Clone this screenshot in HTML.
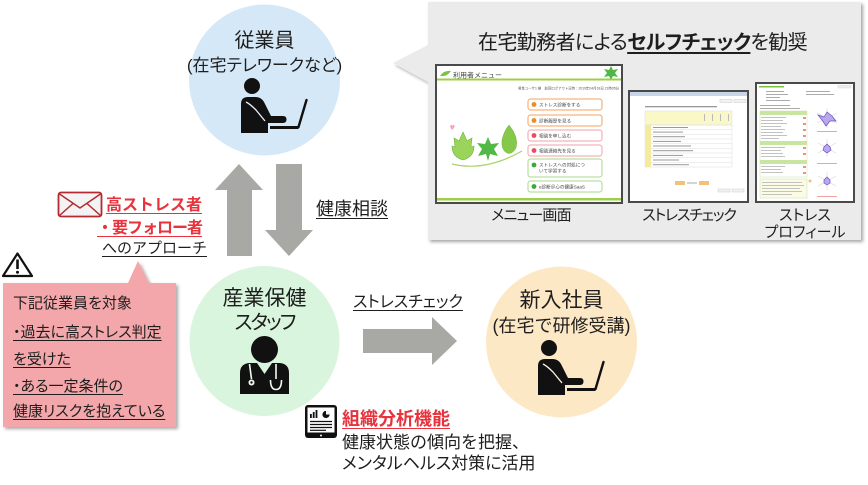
<!DOCTYPE html>
<html><head><meta charset="utf-8">
<style>
html,body{margin:0;padding:0;background:#fff;}
#c{position:relative;width:868px;height:485px;overflow:hidden;font-family:"Liberation Sans","Noto Sans CJK JP",sans-serif;color:#1e1e1e;background:#fff;}
.t{position:absolute;white-space:nowrap;line-height:1;}
.p{font-feature-settings:"palt";}
.u{text-decoration:underline;text-underline-offset:3px;text-decoration-thickness:1px;}
.r{color:#e8323c;font-weight:bold;}
.ctr{text-align:center;}
svg{position:absolute;left:0;top:0;}
</style></head><body><div id="c">
<svg width="868" height="485" viewBox="0 0 868 485" style="font-family:'Liberation Sans','Noto Sans CJK JP',sans-serif;">
<defs>
<filter id="sh" x="-5%" y="-5%" width="115%" height="115%">
<feDropShadow dx="2" dy="2" stdDeviation="1.5" flood-color="#000" flood-opacity="0.35"/>
</filter>
</defs>

<!-- gray panel -->
<path d="M428,2 H861 V240 H428 V82 L393,63 L428,45 Z" fill="#ebebeb" filter="url(#sh)"/>

<!-- pink callout -->
<path d="M3,283 H128 L138,261 L149,283 H176 V427 H3 Z" fill="#f4a7ab" filter="url(#sh)"/>

<!-- circles -->
<circle cx="264.5" cy="80" r="75.5" fill="#d5e8f7"/>
<circle cx="264.5" cy="341" r="75" fill="#daf5de"/>
<circle cx="561.5" cy="342" r="75.5" fill="#fde8c6"/>

<!-- arrows -->
<polygon points="239,164 263,190 252,190 252,256 227,256 227,190 215,190" fill="#a8a9a4"/>
<polygon points="276,164 302,164 302,230 313,230 289,256 265,230 276,230" fill="#a8a9a4"/>
<polygon points="363,329 432,329 432,317 457,341 432,365 432,353 363,353" fill="#a8a9a4"/>

<!-- person icon top -->
<g fill="#111">
<circle cx="252" cy="86" r="8"/>
<path d="M241,133 L241,104 Q241,97 248,97 L256,97 Q261,97 264,102 L271,116 L283,116 Q286.5,116 286.5,119.5 Q286.5,123 283,123 L268,123 L268,133 Z"/>
<rect x="270" y="126" width="28.5" height="3"/>
</g>
<path d="M246,102 Q250,104 256,110 L265,121" fill="none" stroke="#e8f2fb" stroke-width="1.3"/>
<line x1="298.5" y1="127" x2="306.5" y2="100" stroke="#111" stroke-width="2.4" stroke-linecap="round"/>

<!-- person icon orange -->
<g transform="translate(297,262)">
<g fill="#111">
<circle cx="252" cy="86" r="8"/>
<path d="M241,133 L241,104 Q241,97 248,97 L256,97 Q261,97 264,102 L271,116 L283,116 Q286.5,116 286.5,119.5 Q286.5,123 283,123 L268,123 L268,133 Z"/>
<rect x="270" y="126" width="28.5" height="3"/>
</g>
<path d="M246,102 Q250,104 256,110 L265,121" fill="none" stroke="#fff4e2" stroke-width="1.3"/>
<line x1="298.5" y1="127" x2="306.5" y2="100" stroke="#111" stroke-width="2.4" stroke-linecap="round"/>
</g>

<!-- doctor -->
<g fill="#111">
<circle cx="264.5" cy="349.5" r="13.5"/>
<path d="M240,394 L240,373 Q240,364 249,363 L257,363 L264.5,374 L272,363 L280,363 Q289,364 289,373 L289,394 Z"/>
</g>
<g fill="none" stroke="#f2fbf3" stroke-width="1.6">
<path d="M249.5,364 L251.5,379"/>
<path d="M276,364 L276,379"/>
<path d="M270.5,380 Q270.5,389.5 276,389.5 Q281.5,389.5 281.5,380"/>
</g>
<circle cx="251.5" cy="382.5" r="3" fill="#f2fbf3"/>
<circle cx="251.5" cy="382.5" r="1.2" fill="#111"/>

<!-- email icon -->
<rect x="58.5" y="192.5" width="43" height="24" rx="2.5" fill="#f3f3f3" stroke="#b32a30" stroke-width="1.8"/>
<path d="M59.5,194 L80,208 L100.5,194 M59.5,215.5 L73,203.5 M100.5,215.5 L87,203.5" fill="none" stroke="#b32a30" stroke-width="1.5"/>

<!-- warning icon -->
<path d="M17.5,253.5 L32,276 L3,276 Z" fill="#fff" stroke="#111" stroke-width="2.2" stroke-linejoin="round"/>
<rect x="16.2" y="259.5" width="2.6" height="9.5" fill="#111"/>
<circle cx="17.5" cy="272.2" r="1.5" fill="#111"/>

<!-- tablet icon -->
<rect x="305" y="405" width="32" height="33" rx="3" fill="#111"/>
<rect x="307.5" y="407.5" width="27" height="25" fill="#fff"/>
<circle cx="321" cy="435.5" r="1" fill="#fff"/>
<rect x="310" y="414" width="1.8" height="4" fill="#111"/>
<rect x="312.8" y="412" width="1.8" height="6" fill="#111"/>
<rect x="315.6" y="410" width="1.8" height="8" fill="#111"/>
<circle cx="326" cy="414.5" r="3.6" fill="#111"/>
<path d="M326,414.5 L329.6,414.5 A3.6,3.6 0 0 0 326,410.9 Z" fill="#fff"/>
<g stroke="#111" stroke-width="1.2">
<line x1="310" y1="421.5" x2="332" y2="421.5"/>
<line x1="310" y1="424.5" x2="332" y2="424.5"/>
<line x1="310" y1="427.5" x2="332" y2="427.5"/>
<line x1="310" y1="430.3" x2="326" y2="430.3"/>
</g>

<!-- ===== Menu screenshot ===== -->
<rect x="436" y="65" width="186" height="138" fill="#fff" stroke="#4a4a4a" stroke-width="2"/>
<path d="M440,76 Q444,70 451,71 Q447,77 440,76Z" fill="#7cc242"/>
<text x="453" y="77.5" font-size="7" fill="#444">利用者メニュー</text>
<polygon points="611,66 613,70 618,69 615,73 618,77 613,76 611,80 609,76 604,77 607,73 604,69 609,70" fill="#4fb848"/>
<rect x="437" y="78.5" width="184" height="2" fill="#9dd04a"/>
<text x="619" y="89.5" font-size="3.4" text-anchor="end" fill="#555">男性ユーザ1 様　前回ログアウト日時：2019年04月18日 21時05分</text>
<g stroke-width="1" fill="#fff">
<rect x="528" y="99" width="74" height="11" rx="2.5" stroke="#f5a25d"/>
<rect x="528" y="115" width="74" height="11" rx="2.5" stroke="#f5a25d"/>
<rect x="528" y="130" width="74" height="11" rx="2.5" stroke="#f2a0a8"/>
<rect x="528" y="145" width="74" height="11" rx="2.5" stroke="#f2a0a8"/>
<rect x="528" y="159" width="74" height="18" rx="2.5" stroke="#a8d88a"/>
<rect x="528" y="181" width="74" height="11" rx="2.5" stroke="#a8d88a"/>
</g>
<circle cx="534" cy="104.5" r="2.4" fill="#f08a24"/>
<circle cx="534" cy="120.5" r="2.4" fill="#f08a24"/>
<circle cx="534" cy="135.5" r="2.4" fill="#e84a5f"/>
<circle cx="534" cy="150.5" r="2.4" fill="#e84a5f"/>
<circle cx="534" cy="165" r="2.4" fill="#3aaa35"/>
<circle cx="534" cy="186.5" r="2.4" fill="#3aaa35"/>
<g font-size="4.6" fill="#444">
<text x="539" y="106.3">ストレス診断をする</text>
<text x="539" y="122.3">診断履歴を見る</text>
<text x="539" y="137.3">相談を申し込む</text>
<text x="539" y="152.3">相談連絡先を見る</text>
<text x="539" y="166.5">ストレスへの対処につ</text>
<text x="539" y="172.5">いて学習する</text>
<text x="539" y="188.3">e診断＠心の健康SaaS</text>
</g>
<path d="M463,160 Q452,157 452,146 L455,147 L454,138 L459,141 L463,132 L467,141 L472,138 L471,147 L474,146 Q474,157 463,160Z" fill="#9ad45a" stroke="#6db33f" stroke-width="0.6"/>
<polygon points="488,137 491,144 499,143 494,149 498,156 490,154 488,161 486,154 478,156 482,149 477,143 485,144" fill="#52b848"/>
<path d="M509,125 Q519,137 516,148 Q512,155 507,153 Q501,150 502,140 Q504,131 509,125Z" fill="#86c94a" stroke="#6db33f" stroke-width="0.5"/>
<path d="M452,164 Q485,172 522,151" stroke="#a6d36a" stroke-width="1.2" fill="none"/>
<path d="M452,130 Q449,126 451,125 Q452,124.5 452.5,126 Q453,124.5 454,125 Q456,126 452,130Z" fill="#f5a3c0"/>
<rect x="437" y="198" width="184" height="2.5" fill="#9dd04a"/>

<!-- ===== Stress check screenshot ===== -->
<rect x="629" y="91" width="119" height="111" fill="#fff" stroke="#4a4a4a" stroke-width="2"/>
<rect x="630" y="92" width="117" height="4" fill="#c8d4e8"/>
<rect x="720" y="99.5" width="12" height="3" fill="#f2f2f2" stroke="#ccc" stroke-width="0.5"/>
<rect x="734" y="99.5" width="12" height="3" fill="#f2f2f2" stroke="#ccc" stroke-width="0.5"/>
<rect x="645" y="106" width="72" height="1.3" fill="#999"/>
<rect x="645" y="111" width="87" height="14" fill="#fbf8c8" stroke="#ddd" stroke-width="0.5"/>
<g fill="#bbb"><rect x="704" y="114" width="1" height="7"/><rect x="712" y="114" width="1" height="7"/><rect x="720" y="114" width="1" height="7"/><rect x="728" y="114" width="1" height="7"/></g>
<g stroke="#ddd" stroke-width="0.5" fill="none">
<rect x="645" y="125" width="87" height="42"/>
<line x1="645" y1="129.7" x2="732" y2="129.7"/><line x1="645" y1="134.3" x2="732" y2="134.3"/>
<line x1="645" y1="139" x2="732" y2="139"/><line x1="645" y1="143.7" x2="732" y2="143.7"/>
<line x1="645" y1="148.3" x2="732" y2="148.3"/><line x1="645" y1="153" x2="732" y2="153"/>
<line x1="645" y1="157.7" x2="732" y2="157.7"/><line x1="645" y1="162.3" x2="732" y2="162.3"/>
</g>
<rect x="645" y="125" width="6" height="42" fill="#f4eba0"/>
<g fill="#999">
<rect x="653" y="127" width="35" height="1"/><rect x="653" y="131.6" width="30" height="1"/>
<rect x="653" y="136.2" width="32" height="1"/><rect x="653" y="140.9" width="28" height="1"/>
<rect x="653" y="145.5" width="38" height="1"/><rect x="653" y="150.2" width="40" height="1"/>
<rect x="653" y="154.9" width="30" height="1"/><rect x="653" y="159.5" width="26" height="1"/>
<rect x="653" y="164.2" width="36" height="1"/>
</g>
<rect x="675" y="181" width="10" height="4" fill="#f2c27c"/>
<rect x="687" y="182.5" width="10" height="1" fill="#aaa"/>
<rect x="699" y="181" width="10" height="4" fill="#f2c27c"/>
<rect x="718" y="189" width="12" height="3" fill="#f2f2f2" stroke="#ccc" stroke-width="0.5"/>
<rect x="732" y="189" width="12" height="3" fill="#f2f2f2" stroke="#ccc" stroke-width="0.5"/>

<!-- ===== Profile screenshot ===== -->
<rect x="756" y="83" width="98" height="119" fill="#fff" stroke="#4a4a4a" stroke-width="2"/>
<rect x="759" y="86" width="25" height="1.5" fill="#7cc242"/>
<rect x="838" y="85.5" width="13" height="2.5" fill="#eee" stroke="#ccc" stroke-width="0.4"/>
<g fill="#aaa">
<rect x="766" y="91" width="18" height="1"/><rect x="766" y="94" width="22" height="1"/>
<rect x="766" y="97" width="14" height="1"/><rect x="766" y="100" width="24" height="1"/>
<rect x="806" y="91" width="24" height="1"/><rect x="806" y="94" width="28" height="1"/>
<rect x="760" y="105" width="30" height="1"/><rect x="760" y="108" width="40" height="1"/>
</g>
<rect x="760" y="111" width="47" height="66" fill="#fff" stroke="#c8e0a8" stroke-width="0.5"/>
<rect x="760" y="111" width="47" height="4" fill="#c8e6a0"/>
<rect x="760" y="141" width="47" height="4" fill="#c8e6a0"/>
<rect x="760" y="160" width="47" height="4" fill="#c8e6a0"/>
<g fill="#bbb">
<rect x="761" y="117" width="25" height="0.9"/><rect x="761" y="120" width="22" height="0.9"/>
<rect x="761" y="123" width="26" height="0.9"/><rect x="761" y="126" width="20" height="0.9"/>
<rect x="761" y="129" width="24" height="0.9"/><rect x="761" y="132" width="22" height="0.9"/>
<rect x="761" y="135" width="26" height="0.9"/><rect x="761" y="138" width="18" height="0.9"/>
<rect x="761" y="147" width="24" height="0.9"/><rect x="761" y="150" width="20" height="0.9"/>
<rect x="761" y="153" width="22" height="0.9"/><rect x="761" y="156" width="24" height="0.9"/>
<rect x="761" y="166" width="24" height="0.9"/><rect x="761" y="169" width="20" height="0.9"/>
<rect x="761" y="172" width="22" height="0.9"/>
</g>
<g fill="#f08c8c">
<rect x="803" y="117" width="3" height="2"/><rect x="803" y="123" width="3" height="2"/>
<rect x="803" y="129" width="3" height="2"/><rect x="803" y="135" width="3" height="2"/>
<rect x="803" y="147" width="3" height="2"/><rect x="803" y="153" width="3" height="2"/>
<rect x="803" y="166" width="3" height="2"/><rect x="803" y="172" width="3" height="2"/>
</g>
<rect x="760" y="179" width="47" height="19" fill="#fbfbe6" stroke="#c8e0a8" stroke-width="0.5"/>
<g fill="#bbb"><rect x="762" y="182" width="40" height="0.9"/><rect x="762" y="185" width="42" height="0.9"/><rect x="762" y="188" width="38" height="0.9"/><rect x="762" y="191" width="40" height="0.9"/><rect x="762" y="194" width="30" height="0.9"/></g>
<circle cx="810" cy="181" r="1.5" fill="#f5c26b"/>
<g stroke="#ccc" stroke-width="0.5" fill="none">
<path d="M827,108 V128 M817,113 L837,123 M817,123 L837,113"/>
<path d="M827,139 V157 M818,143 L836,153 M818,153 L836,143"/>
<path d="M827,172 V190 M818,176 L836,186 M818,186 L836,176"/>
</g>
<polygon points="827,112 832,116 836,121 830,121 826,126 822,120 818,115 824,117" fill="#b9a8ec" stroke="#6a4fc4" stroke-width="0.7"/>
<polygon points="827,144 830,147 831,150 827,153 823,150 824,147" fill="#b9a8ec" stroke="#6a4fc4" stroke-width="0.7"/>
<polygon points="827,177 830,180 830,183 827,185 824,183 824,180" fill="#b9a8ec" stroke="#6a4fc4" stroke-width="0.7"/>
<g fill="#f08c8c"><rect x="817" y="131" width="20" height="0.8"/><rect x="817" y="163" width="20" height="0.8"/><rect x="817" y="196" width="20" height="0.8"/></g>
</svg>

<!-- top circle text -->
<div class="t ctr" style="left:164.5px;width:200px;top:30.6px;font-size:20px;">従業員</div>
<div class="t ctr p" style="left:164.5px;width:200px;top:57px;font-size:17px;">(在宅テレワークなど)</div>

<div class="t u" style="left:316px;top:199.5px;font-size:18px;">健康相談</div>

<div class="t r u" style="left:106px;top:197.5px;font-size:16px;">高ストレス者</div>
<div class="t r u" style="left:97px;top:220.5px;font-size:16px;letter-spacing:-1px;">・要フォロー者</div>
<div class="t u" style="left:102px;top:241px;font-size:15px;">へのアプローチ</div>

<!-- pink callout text -->
<div class="t p" style="left:13px;top:296px;font-size:15px;">下記従業員を対象</div>
<div class="t p u" style="left:13px;top:325px;font-size:15px;">・過去に高ストレス判定</div>
<div class="t p u" style="left:13px;top:352px;font-size:15px;">を受けた</div>
<div class="t p u" style="left:13px;top:379px;font-size:15px;">・ある一定条件の</div>
<div class="t p u" style="left:13px;top:404px;font-size:15px;">健康リスクを抱えている</div>

<!-- green circle text -->
<div class="t ctr" style="left:164.5px;width:200px;top:288px;font-size:21px;">産業保健</div>
<div class="t ctr p" style="left:164.5px;width:200px;top:312.5px;font-size:20px;letter-spacing:-2px;">スタッフ</div>

<div class="t p u" style="left:353px;top:294.5px;font-size:16px;">ストレスチェック</div>

<!-- orange circle text -->
<div class="t ctr" style="left:461.5px;width:200px;top:290px;font-size:21px;">新入社員</div>
<div class="t ctr" style="left:461.5px;width:200px;top:316.5px;font-size:18px;">(在宅で研修受講)</div>

<!-- analysis -->
<div class="t r u" style="left:342px;top:409.5px;font-size:18px;">組織分析機能</div>
<div class="t" style="left:342px;top:434px;font-size:17px;">健康状態の傾向を把握、</div>
<div class="t p" style="left:342px;top:455px;font-size:17px;">メンタルヘルス対策に活用</div>

<!-- panel text -->
<div class="t ctr p" style="left:442.5px;width:400px;top:32.5px;font-size:20px;letter-spacing:-0.6px;">在宅勤務者による<b class="u" style="text-decoration-thickness:1.5px;">セルフチェック</b>を勧奨</div>
<div class="t ctr p" style="left:481px;width:100px;top:208px;font-size:15px;letter-spacing:-0.8px;">メニュー画面</div>
<div class="t ctr p" style="left:639px;width:100px;top:208px;font-size:15px;letter-spacing:-1.2px;">ストレスチェック</div>
<div class="t ctr p" style="left:755px;width:100px;top:208px;font-size:15px;">ストレス</div>
<div class="t ctr p" style="left:755px;width:100px;top:225px;font-size:15px;">プロフィール</div>

</div></body></html>
